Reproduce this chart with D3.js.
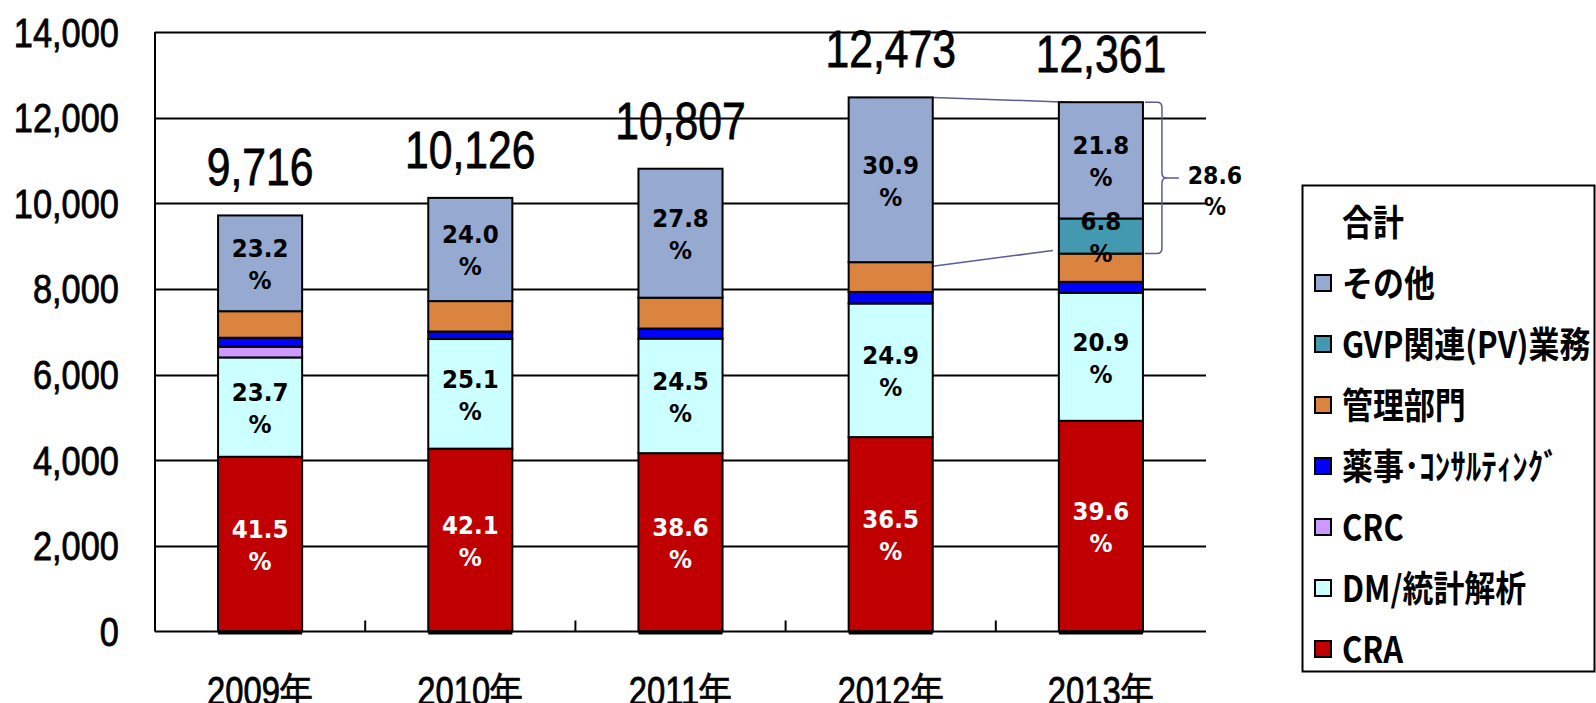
<!DOCTYPE html>
<html>
<head>
<meta charset="utf-8">
<script src="https://cdn.jsdelivr.net/npm/d3@7"></script>
<style>
  body { margin: 0; background: #fff; }
  svg { display: block; }
  .heavy { stroke: #000; stroke-width: 0.8px; }
</style>
</head>
<body>
<svg id="chart" width="1596" height="703"></svg>
<script>
// categories and series (people)
var years = ['2009年', '2010年', '2011年', '2012年', '2013年'];
var totals = [9716, 10126, 10807, 12473, 12361];

var seriesNames = ['CRA', 'DM/統計解析', 'CRC', '薬事･ｺﾝｻﾙﾃｨﾝｸﾞ', '管理部門', 'GVP関連(PV)業務', 'その他'];
var seriesColors = ['#C00000', '#CCFFFF', '#CC99FF', '#0000FF', '#DA843F', '#4399AF', '#95A9D1'];

var cra    = [4080, 4270, 4165, 4540, 4920];
var dm     = [2320, 2560, 2675, 3120, 2990];
var crc    = [250, 0, 0, 0, 0];
var yakuji = [210, 175, 235, 270, 255];
var kanri  = [620, 711, 720, 695, 660];
var gvp    = [0, 0, 0, 0, 820];
var other  = [2236, 2410, 3012, 3848, 2716];

// percentage labels shown inside the segments
var craPct   = ['41.5', '42.1', '38.6', '36.5', '39.6'];
var dmPct    = ['23.7', '25.1', '24.5', '24.9', '20.9'];
var gvpPct   = [null, null, null, null, '6.8'];
var otherPct = ['23.2', '24.0', '27.8', '30.9', '21.8'];
var bracketPct = '28.6';

var yTicks = [0, 2000, 4000, 6000, 8000, 10000, 12000, 14000];

var svg = d3.select('#chart');
var margin = { left: 155, right: 390, top: 32, bottom: 72 };
var W = 1596, H = 703;

var narrow = '"Liberation Sans", Arial, sans-serif';
var labelFont = '"DejaVu Sans", Verdana, sans-serif';

var x = d3.scaleBand()
  .domain(years)
  .range([margin.left, W - margin.right])
  .paddingInner(0.6)
  .paddingOuter(0.3);

var y = d3.scaleLinear()
  .domain([0, 14000])
  .range([H - margin.bottom + 0.5, margin.top]);

// build rows for the stack
var rows = years.map(function(yr, i) {
  var r = { year: yr };
  [cra, dm, crc, yakuji, kanri, gvp, other].forEach(function(arr, k) {
    r[seriesNames[k]] = arr[i];
  });
  return r;
});
var stacked = d3.stack().keys(seriesNames)(rows);

// gridlines
svg.append('g')
  .selectAll('line')
  .data(yTicks.slice(1))
  .enter().append('line')
  .attr('x1', margin.left).attr('x2', W - margin.right)
  .attr('y1', function(d) { return Math.round(y(d)) + 0.5; })
  .attr('y2', function(d) { return Math.round(y(d)) + 0.5; })
  .attr('stroke', '#000').attr('stroke-width', 2);

// y tick labels (condensed)
svg.append('g')
  .selectAll('text')
  .data(yTicks)
  .enter().append('text')
  .attr('class', 'heavy')
  .attr('transform', function(d) { return 'translate(119,' + (y(d) + 14.5) + ') scale(0.86,1)'; })
  .attr('text-anchor', 'end')
  .attr('font-family', narrow)
  .attr('font-size', 40)
  .text(function(d) { return d3.format(',')(d); });

// connector lines between 2012 and 2013 "other" blocks (drawn under bars)
var conn = svg.append('g').attr('stroke', '#5B5B95').attr('stroke-width', 1.5).attr('fill', 'none');
conn.append('line')
  .attr('x1', x('2012年') + x.bandwidth()).attr('y1', y(totals[3]))
  .attr('x2', x('2013年') + 8).attr('y2', y(totals[4]));
conn.append('line')
  .attr('x1', x('2012年') + x.bandwidth()).attr('y1', y(totals[3] - other[3]) + 4)
  .attr('x2', x('2013年') - 6).attr('y2', y(totals[4] - other[4] - gvp[4]) - 3);

// bars
var layers = svg.append('g')
  .selectAll('g')
  .data(stacked)
  .enter().append('g')
  .attr('fill', function(d, i) { return seriesColors[i]; });

layers.selectAll('rect')
  .data(function(d) { return d.filter(function(p) { return p[1] > p[0]; }); })
  .enter().append('rect')
  .attr('x', function(d) { return x(d.data.year); })
  .attr('width', x.bandwidth())
  .attr('y', function(d) { return y(d[1]); })
  .attr('height', function(d) { return y(d[0]) - y(d[1]); })
  .attr('stroke', '#000')
  .attr('stroke-width', 2);

// thick bottom under bars
svg.append('g')
  .selectAll('line')
  .data(years)
  .enter().append('line')
  .attr('x1', function(d) { return x(d); })
  .attr('x2', function(d) { return x(d) + x.bandwidth(); })
  .attr('y1', y(0) + 1).attr('y2', y(0) + 1)
  .attr('stroke', '#000').attr('stroke-width', 4);

// axes lines and category ticks
svg.append('line')
  .attr('x1', margin.left).attr('x2', margin.left)
  .attr('y1', y(14000)).attr('y2', y(0))
  .attr('stroke', '#000').attr('stroke-width', 2);
svg.append('line')
  .attr('x1', margin.left).attr('x2', W - margin.right)
  .attr('y1', y(0)).attr('y2', y(0))
  .attr('stroke', '#000').attr('stroke-width', 2);

svg.append('g')
  .selectAll('line')
  .data(years.slice(1))
  .enter().append('line')
  .attr('x1', function(d) { return x(d) - x.bandwidth() * 0.75; })
  .attr('x2', function(d) { return x(d) - x.bandwidth() * 0.75; })
  .attr('y1', y(0)).attr('y2', y(0) - 11)
  .attr('stroke', '#000').attr('stroke-width', 2);

// x labels (cut by the bottom edge, as in the original)
svg.append('g')
  .selectAll('text')
  .data(years)
  .enter().append('text')
  .attr('class', 'heavy')
  .attr('transform', function(d) { return 'translate(' + (x(d) + x.bandwidth() / 2) + ',705) scale(0.82,1)'; })
  .attr('text-anchor', 'middle')
  .attr('font-family', narrow)
  .attr('font-size', 40)
  .text(function(d) { return d; });

// totals above bars
svg.append('g')
  .selectAll('text')
  .data(totals)
  .enter().append('text')
  .attr('class', 'heavy')
  .attr('transform', function(d, i) {
    return 'translate(' + (x(years[i]) + x.bandwidth() / 2) + ',' + (y(d) - 30) + ') scale(0.82,1)';
  })
  .attr('text-anchor', 'middle')
  .attr('font-family', narrow)
  .attr('font-size', 52)
  .text(function(d) { return d3.format(',')(d); });

// percent labels inside segments
function pctLabels(layerIdx, labels, color) {
  var layer = stacked[layerIdx];
  labels.forEach(function(t, i) {
    if (!t) return;
    var p = layer[i];
    var cx = x(years[i]) + x.bandwidth() / 2;
    var cy = (y(p[0]) + y(p[1])) / 2;
    var g = svg.append('g')
      .attr('font-family', labelFont)
      .attr('font-weight', 'bold')
      .attr('font-size', 25)
      .attr('text-anchor', 'middle')
      .attr('fill', color);
    g.append('text').attr('transform', 'translate(' + cx + ',' + (cy - 6) + ') scale(0.92,1)').text(t);
    g.append('text').attr('transform', 'translate(' + cx + ',' + (cy + 26) + ') scale(0.92,1)').text('%');
  });
}
pctLabels(0, craPct, '#fff');
pctLabels(1, dmPct, '#000');
pctLabels(5, gvpPct, '#000');
pctLabels(6, otherPct, '#000');

// brace to the right of the 2013 bar
var bx = x('2013年') + x.bandwidth() + 2;
var bTop = y(totals[4]);
var bBot = y(totals[4] - other[4] - gvp[4]);
var bMid = (bTop + bBot) / 2;
var brace = d3.path();
brace.moveTo(bx, bTop);
brace.lineTo(bx + 12, bTop);
brace.quadraticCurveTo(bx + 17, bTop, bx + 17, bTop + 5);
brace.lineTo(bx + 17, bMid - 5);
brace.quadraticCurveTo(bx + 17, bMid, bx + 22, bMid);
brace.lineTo(bx + 34, bMid);
brace.moveTo(bx + 22, bMid);
brace.quadraticCurveTo(bx + 17, bMid, bx + 17, bMid + 5);
brace.lineTo(bx + 17, bBot - 5);
brace.quadraticCurveTo(bx + 17, bBot, bx + 12, bBot);
brace.lineTo(bx, bBot);
svg.append('path')
  .attr('d', brace.toString())
  .attr('fill', 'none')
  .attr('stroke', '#5B5B95')
  .attr('stroke-width', 1.5);

var bl = svg.append('g')
  .attr('font-family', labelFont)
  .attr('font-weight', 'bold')
  .attr('font-size', 24)
  .attr('text-anchor', 'middle');
bl.append('text').attr('transform', 'translate(' + (bx + 70) + ',' + (bMid + 6) + ') scale(0.92,1)').text(bracketPct);
bl.append('text').attr('transform', 'translate(' + (bx + 70) + ',' + (bMid + 37) + ') scale(0.92,1)').text('%');

// legend
var legend = svg.append('g');
legend.append('rect')
  .attr('x', 1302.5).attr('y', 185.5)
  .attr('width', 292).attr('height', 486)
  .attr('fill', '#fff').attr('stroke', '#000').attr('stroke-width', 2);

var legendItems = [{ name: '合計', color: null }].concat(
  seriesNames.slice().reverse().map(function(n) {
    return { name: n, color: seriesColors[seriesNames.indexOf(n)] };
  })
);

var li = legend.selectAll('g.item')
  .data(legendItems)
  .enter().append('g')
  .attr('class', 'item')
  .attr('transform', function(d, i) { return 'translate(1315,' + (223 + i * 61) + ')'; });

li.filter(function(d) { return d.color; })
  .append('rect')
  .attr('x', 0).attr('y', -9)
  .attr('width', 16).attr('height', 16)
  .attr('fill', function(d) { return d.color; })
  .attr('stroke', '#000').attr('stroke-width', 2);

li.append('text')
  .attr('transform', 'translate(27,13) scale(0.86,1)')
  .attr('font-family', '"Noto Sans CJK JP", sans-serif')
  .attr('font-weight', 'bold')
  .attr('font-size', 36)
  .text(function(d) { return d.name; });
</script>
</body>
</html>
